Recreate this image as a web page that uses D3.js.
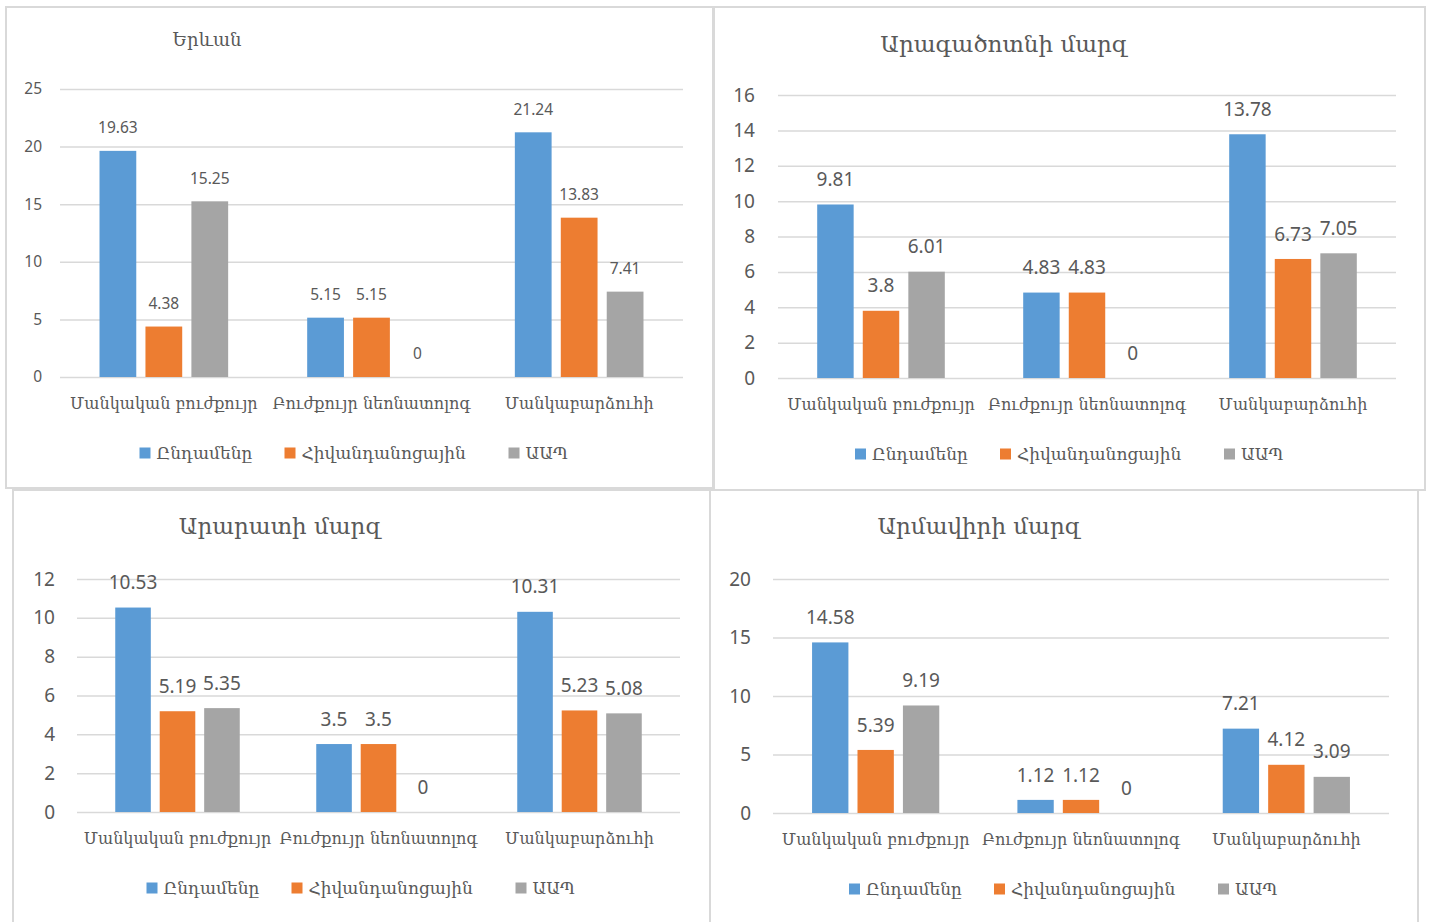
<!DOCTYPE html>
<html lang="hy">
<head>
<meta charset="utf-8">
<style>
  body { margin: 0; background: #fff; }
  svg text { fill: #595959; }
  .arm { font-family: "DejaVu Serif", serif; }
  .num { font-family: "Noto Sans", "Open Sans", sans-serif; }
</style>
</head>
<body>
<svg id="chart" width="1431" height="922"></svg>
<script src="https://cdn.jsdelivr.net/npm/d3@7/dist/d3.min.js"></script>
<script>
// categories and series
var categories = ["Մանկական բուժքույր", "Բուժքույր նեոնատոլոգ", "Մանկաբարձուհի"];
var seriesNames = ["Ընդամենը", "Հիվանդանոցային", "ԱԱՊ"];
var colors = ["#5B9BD5", "#ED7D31", "#A5A5A5"];

// values: [Ընդամենը, Հիվանդանոցային, ԱԱՊ] per category
var yerevan = [[19.63, 4.38, 15.25], [5.15, 5.15, 0], [21.24, 13.83, 7.41]];
var aragatsotn = [[9.81, 3.8, 6.01], [4.83, 4.83, 0], [13.78, 6.73, 7.05]];
var ararat = [[10.53, 5.19, 5.35], [3.5, 3.5, 0], [10.31, 5.23, 5.08]];
var armavir = [[14.58, 5.39, 9.19], [1.12, 1.12, 0], [7.21, 4.12, 3.09]];

var titles = ["Երևան", "Արագածոտնի մարզ", "Արարատի մարզ", "Արմավիրի մարզ"];
var yTicks1 = [0, 5, 10, 15, 20, 25];
var yTicks2 = [0, 2, 4, 6, 8, 10, 12, 14, 16];
var yTicks3 = [0, 2, 4, 6, 8, 10, 12];
var yTicks4 = [0, 5, 10, 15, 20];

var panels = [
  { data: yerevan, ticks: yTicks1, title: titles[0],
    box: [6, 7, 707, 481], x0: 60, x1: 683, yTop: 89, yZero: 377,
    titleX: 207, titleY: 40, titleSize: 18, tickFont: 15.5, valFont: 15.5, tickGap: 18, valOff: 23 },
  { data: aragatsotn, ticks: yTicks2, title: titles[1],
    box: [714, 7, 711, 483], x0: 778, x1: 1396, yTop: 95, yZero: 378,
    titleX: 1004, titleY: 44, titleSize: 23, tickFont: 19, valFont: 19, tickGap: 23, valOff: 25 },
  { data: ararat, ticks: yTicks3, title: titles[2],
    box: [13, 490, 697, 440], x0: 77, x1: 680, yTop: 579, yZero: 812,
    titleX: 280, titleY: 526, titleSize: 23, tickFont: 19, valFont: 19, tickGap: 22, valOff: 25 },
  { data: armavir, ticks: yTicks4, title: titles[3],
    box: [710, 490, 708, 440], x0: 773, x1: 1389, yTop: 579, yZero: 813,
    titleX: 979, titleY: 526, titleSize: 23, tickFont: 19, valFont: 19, tickGap: 22, valOff: 25 }
];

var svg = d3.select("#chart");
var legendOffsets = [-232, -87, 137];

panels.forEach(function(p) {
  var g = svg.append("g");

  g.append("rect")
    .attr("x", p.box[0]).attr("y", p.box[1])
    .attr("width", p.box[2]).attr("height", p.box[3])
    .attr("fill", "none").attr("stroke", "#d9d9d9").attr("stroke-width", 2);

  var y = d3.scaleLinear()
    .domain([0, d3.max(p.ticks)])
    .range([p.yZero, p.yTop]);

  var x = d3.scaleBand().domain(categories).range([p.x0, p.x1]);
  var xs = d3.scaleBand().domain(seriesNames).range([0, x.bandwidth()])
    .paddingInner(0.2).paddingOuter(0.86);

  // gridlines + y tick labels
  var axis = d3.axisLeft(y)
    .tickValues(p.ticks)
    .tickSize(-(p.x1 - p.x0))
    .tickPadding(p.tickGap)
    .tickFormat(d3.format("d"));

  var ag = g.append("g")
    .attr("transform", "translate(" + p.x0 + ",0)")
    .call(axis);
  ag.select(".domain").remove();
  ag.selectAll(".tick line").attr("stroke", "#d9d9d9").attr("stroke-width", 1.5);
  ag.selectAll(".tick text")
    .attr("class", "num")
    .attr("fill", "#595959")
    .style("font-size", p.tickFont + "px");

  // bars
  var groups = g.selectAll("g.cat")
    .data(p.data)
    .enter().append("g")
    .attr("class", "cat")
    .attr("transform", function(d, i) { return "translate(" + x(categories[i]) + ",0)"; });

  groups.selectAll("rect")
    .data(function(d) { return d; })
    .enter().append("rect")
    .attr("x", function(d, j) { return xs(seriesNames[j]); })
    .attr("width", xs.bandwidth())
    .attr("y", function(d) { return y(d); })
    .attr("height", function(d) { return p.yZero - y(d); })
    .attr("fill", function(d, j) { return colors[j]; });

  groups.selectAll("text.val")
    .data(function(d) { return d; })
    .enter().append("text")
    .attr("class", "val num")
    .attr("x", function(d, j) { return xs(seriesNames[j]) + xs.bandwidth() / 2; })
    .attr("y", function(d) { return y(d) - p.valOff; })
    .attr("dy", "0.35em")
    .attr("text-anchor", "middle")
    .style("font-size", p.valFont + "px")
    .text(function(d) { return d; });

  // category labels
  g.selectAll("text.catlab")
    .data(categories)
    .enter().append("text")
    .attr("class", "catlab arm")
    .attr("x", function(d) { return x(d) + x.bandwidth() / 2; })
    .attr("y", p.yZero + 26)
    .attr("dy", "0.35em")
    .attr("text-anchor", "middle")
    .style("font-size", "16px")
    .text(function(d) { return d; });

  // title
  g.append("text")
    .attr("class", "arm")
    .attr("x", p.titleX).attr("y", p.titleY)
    .attr("dy", "0.35em")
    .attr("text-anchor", "middle")
    .style("font-size", p.titleSize + "px")
    .text(p.title);

  // legend
  var cx = (p.x0 + p.x1) / 2;
  var ly = p.yZero + 76;
  var lg = g.selectAll("g.leg")
    .data(seriesNames)
    .enter().append("g")
    .attr("class", "leg")
    .attr("transform", function(d, i) { return "translate(" + (cx + legendOffsets[i]) + "," + ly + ")"; });
  lg.append("rect")
    .attr("x", 0).attr("y", -5.5)
    .attr("width", 11).attr("height", 11)
    .attr("fill", function(d, i) { return colors[i]; });
  lg.append("text")
    .attr("class", "arm")
    .attr("x", 17).attr("y", 0)
    .attr("dy", "0.35em")
    .style("font-size", "17px")
    .text(function(d) { return d; });
});
</script>
</body>
</html>
